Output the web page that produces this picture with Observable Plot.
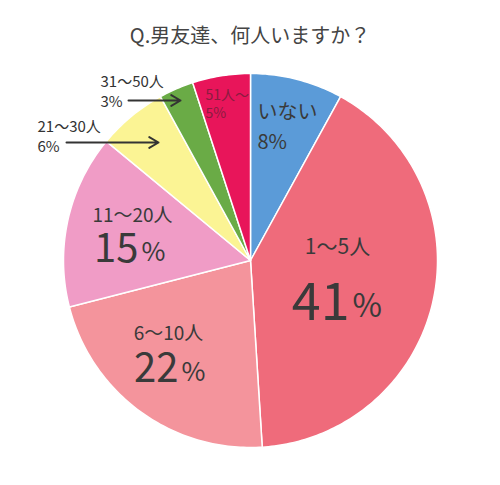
<!DOCTYPE html>
<html><head><meta charset="utf-8">
<script src="https://cdn.jsdelivr.net/npm/d3@7"></script>
<script src="https://cdn.jsdelivr.net/npm/@observablehq/plot@0.6"></script>
<style>
body{margin:0;background:#fff;font-family:"Noto Sans CJK JP","Noto Sans",sans-serif;}
#title{height:55px;line-height:70px;text-align:center;font-size:20px;color:#444;width:500px;}
</style></head>
<body>
<div id="title">Q.男友達、何人いますか？</div>
<div id="chart"></div>
<script>
const categories = ["いない","1〜5人","6〜10人","11〜20人","21〜30人","31〜50人","51人〜"];
const values = [8, 41, 22, 15, 6, 3, 5];
const colors = ["#5b9bd8","#ef6b7b","#f4949c","#f09cc6","#fbf494","#6aab46","#e8155a"];

const R = 187;
const pie = d3.pie().sort(null).value(d => d.value)(categories.map((c,i)=>({key:c,value:values[i]})));
const pts = [];
pie.forEach(s => {
  const k = s.data.key;
  pts.push({key:k,x:0,y:0});
  const n = Math.max(4, Math.ceil((s.endAngle - s.startAngle) * 60));
  for (let j=0;j<=n;j++){
    const a = s.startAngle + (s.endAngle - s.startAngle)*j/n;
    pts.push({key:k,x:R*Math.sin(a),y:R*Math.cos(a)});
  }
  pts.push({key:k,x:0,y:0});
});

// label positions (relative to pie centre, y up)
const inside = [
  {t:"いない", x:7, y:148, size:20, anchor:"start", fill:"#3a3a3a"},
  {t:values[0]+"%", x:7, y:118, size:20, anchor:"start", fill:"#3a3a3a"},
  {t:categories[1], x:87, y:13, size:21, anchor:"middle", fill:"#3a3a3a"},
  {t:String(values[1]), x:99, y:-43, size:52, anchor:"end", fill:"#3a3a3a"},
  {t:"%", x:102, y:-46, size:32, anchor:"start", fill:"#3a3a3a"},
  {t:categories[2], x:-82, y:-73, size:19, anchor:"middle", fill:"#3a3a3a"},
  {t:String(values[2]), x:-72, y:-109, size:40, anchor:"end", fill:"#3a3a3a"},
  {t:"%", x:-69, y:-112, size:26, anchor:"start", fill:"#3a3a3a"},
  {t:categories[3], x:-118, y:45, size:19, anchor:"middle", fill:"#3a3a3a"},
  {t:String(values[3]), x:-112, y:11, size:40, anchor:"end", fill:"#3a3a3a"},
  {t:"%", x:-109, y:8, size:26, anchor:"start", fill:"#3a3a3a"},
  {t:categories[6], x:-45, y:165, size:14, anchor:"start", fill:"#8a1c40"},
  {t:values[6]+"%", x:-45, y:147, size:14, anchor:"start", fill:"#8a1c40"},
  {t:categories[4], x:-213, y:133, size:15, anchor:"start", fill:"#333"},
  {t:values[4]+"%", x:-213, y:113, size:15, anchor:"start", fill:"#333"},
  {t:categories[5], x:-150, y:178, size:15, anchor:"start", fill:"#333"},
  {t:values[5]+"%", x:-150, y:158, size:15, anchor:"start", fill:"#333"}
];
const arrows = [
  {x1:-184, y1:118, x2:-92, y2:118},
  {x1:-122, y1:160, x2:-70, y2:160}
];

const chart = Plot.plot({
  width: 500, height: 430,
  margin: 0,
  x: {domain:[-250,250], axis:null},
  y: {domain:[-225,205], axis:null},
  color: {domain: categories, range: colors},
  marks: [
    Plot.line(pts, {x:"x", y:"y", z:"key", fill:"key", stroke:"#fff", strokeWidth:1.5, curve:"linear"}),
    ...inside.map(d => Plot.text([d], {x:"x", y:"y", text:"t", fontSize:d.size, textAnchor:d.anchor, fill:d.fill, fontFamily:"'Noto Sans CJK JP', sans-serif"})),
    Plot.arrow(arrows, {x1:"x1", y1:"y1", x2:"x2", y2:"y2", stroke:"#333", strokeWidth:2, headLength:8, bend:false})
  ]
});
document.getElementById("chart").appendChild(chart);
</script>
</body></html>
